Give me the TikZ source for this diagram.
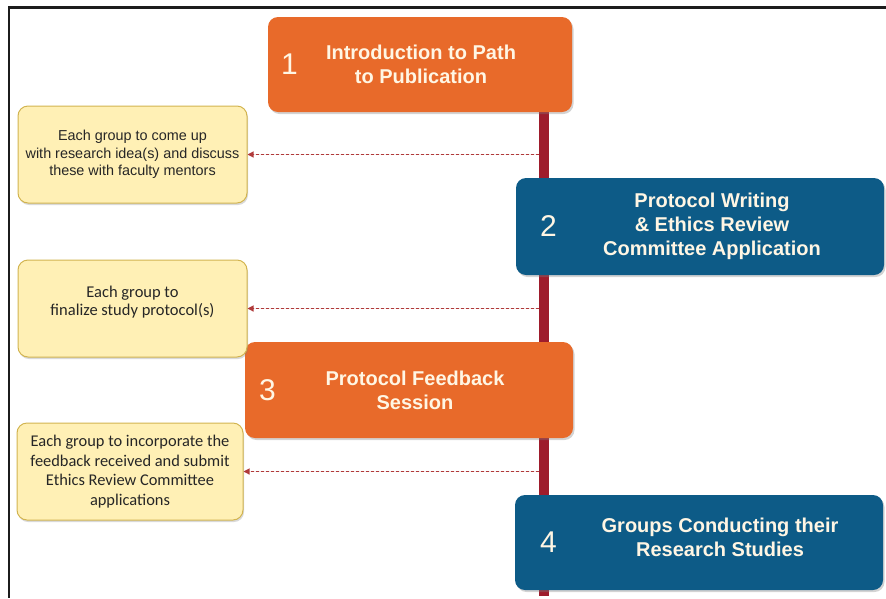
\documentclass[tikz,border=0pt]{standalone}
\usepackage{fontspec}
\setmainfont{Liberation Sans}
\newfontfamily\carlitofont{Carlito}
\usetikzlibrary{arrows.meta,positioning,shadows}
\definecolor{stepOrange}{HTML}{E86A2A}
\definecolor{stepBlue}{HTML}{0D5B87}
\definecolor{spineRed}{HTML}{9E1C2C}
\definecolor{noteFill}{HTML}{FFF0B5}
\definecolor{noteDraw}{HTML}{D2B450}
\definecolor{tapRed}{HTML}{B03A3A}
\definecolor{frameDark}{HTML}{1C1C1C}
\definecolor{titleCream}{HTML}{FFF6E4}
\tikzset{
  stepbox/.style={rounded corners=10pt, inner sep=0pt,
    drop shadow={shadow xshift=1.5pt, shadow yshift=-2pt, opacity=0.35}},
  orangebox/.style={stepbox, fill=stepOrange},
  bluebox/.style={stepbox, fill=stepBlue},
  notebox/.style={draw=noteDraw, line width=1pt, fill=noteFill, rounded corners=10pt,
    inner sep=0pt, align=center, text=black!85,
    drop shadow={shadow xshift=1pt, shadow yshift=-2pt, opacity=0.3}},
  stepnum/.style={inner sep=0pt, text=titleCream, font=\fontsize{30}{30}\selectfont},
  steptitle/.style={inner sep=0pt, align=center, text=titleCream,
    font=\bfseries\fontsize{20}{24}\selectfont},
  tap/.style={-{Triangle[length=6pt,width=6pt]}, draw=tapRed, fill=tapRed,
    line width=1.1pt, dash pattern=on 3pt off 2pt},
  spine/.style={draw=spineRed, line width=10pt},
  frame/.style={draw=frameDark, line width=2.8pt}
}

\begin{document}
\begin{tikzpicture}[x=1pt, y=-1pt]
    \useasboundingbox (0,0) rectangle (886,598);
    \draw[frame] (886,7.5) -- (9,7.5) -- (9,598);
    % red timeline behind the steps
    \coordinate (spinetop) at (544,100);
    \coordinate (spinebot) at (544,596);
    \draw[spine] (spinetop) -- (spinebot);

    \node[orangebox, minimum width=304pt, minimum height=95pt] (intro) at (420,64.5) {};
    \node[steptitle] (introtitle) at ([xshift=1pt]intro.center) {Introduction to Path\\to Publication};
    \node[stepnum, right=13pt of intro.west] (intronum) {1};

    \node[bluebox, minimum width=368pt, minimum height=97pt] (protocol) at (700,226.5) {};
    \node[steptitle] (protocoltitle) at ([xshift=12pt]protocol.center) {Protocol Writing\\\& Ethics Review\\Committee Application};
    \node[stepnum, right=24pt of protocol.west] (protocolnum) {2};

    \node[orangebox, minimum width=328pt, minimum height=96pt] (feedback) at (409,390) {};
    \node[steptitle] (feedbacktitle) at ([xshift=6pt]feedback.center) {Protocol Feedback\\Session};
    \node[stepnum, right=14pt of feedback.west] (feedbacknum) {3};

    \node[bluebox, minimum width=368pt, minimum height=95pt] (conduct) at (699,542.5) {};
    \node[steptitle] (conducttitle) at ([xshift=21pt, yshift=5pt]conduct.center) {Groups Conducting their\\Research Studies};
    \node[stepnum, right=25pt of conduct.west] (conductnum) {4};

    % group tasks
    \node[notebox, minimum width=229pt, minimum height=97pt, font=\fontsize{14.4}{17.5}\selectfont] (ideas) at (132.5,154.5)
      {Each group to come up\\with research idea(s) and discuss\\these with faculty mentors};
    \node[notebox, minimum width=229pt, minimum height=97pt, font=\carlitofont\fontsize{16.5}{18}\selectfont] (finalize) at (132.5,308.5)
      {Each group to\\finalize study protocol(s)\\[-2pt]\rule{0pt}{0pt}};
    \node[notebox, minimum width=226pt, minimum height=97pt, font=\carlitofont\fontsize{16.4}{19.5}\selectfont] (submit) at (130,471.5)
      {Each group to incorporate the\\feedback received and submit\\Ethics Review Committee\\applications};

    \coordinate (tap1) at ([xshift=-5pt]spinetop |- ideas.east);
    \coordinate (tap2) at ([xshift=-5pt]spinetop |- finalize.east);
    \coordinate (tap3) at ([xshift=-5pt]spinetop |- submit.east);
    \draw[tap] (tap1) -- (ideas.east);
    \draw[tap] (tap2) -- (finalize.east);
    \draw[tap] (tap3) -- (submit.east);
  \end{tikzpicture}
\end{document}
